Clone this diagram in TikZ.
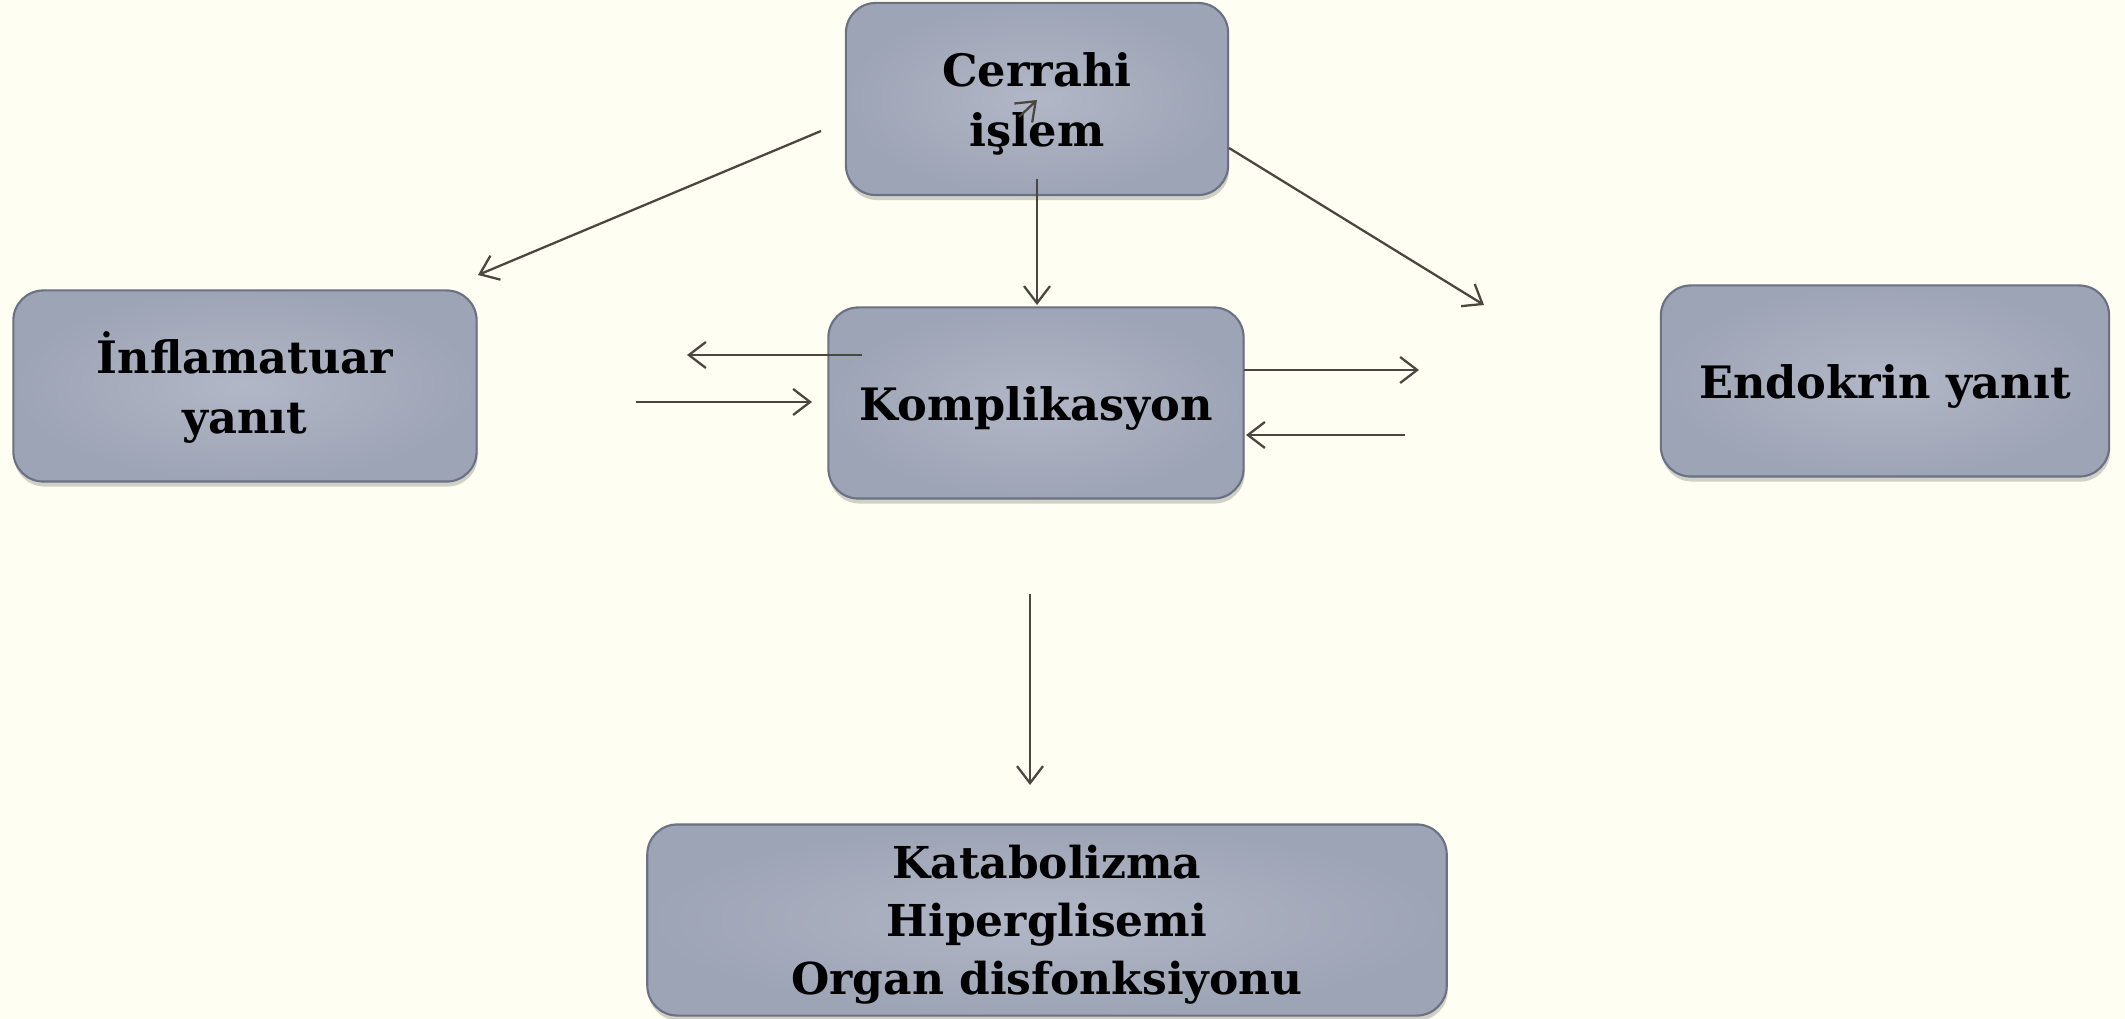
\documentclass[tikz,border=0pt]{standalone}
\usepackage{fontspec}
\setmainfont{DejaVu Serif}
\usetikzlibrary{arrows.meta,shadows}
\definecolor{paper}{HTML}{FEFEF2}
\definecolor{boxin}{HTML}{B1B7C6}
\definecolor{boxout}{HTML}{9DA4B5}
\definecolor{boxline}{HTML}{6A7183}
\definecolor{arrowc}{HTML}{4B4640}
% centred block of lines, set a little below the box centre
\newcommand{\boxlines}[1]{\raisebox{-1.5pt}[\height][\depth]{\begin{tabular}{@{}c@{}}#1\end{tabular}}}
\tikzset{
  box/.style={rounded corners=0.3cm, draw=boxline, line width=0.6pt,
    inner color=boxin, outer color=boxout, inner sep=0pt,
    font=\bfseries\fontsize{12.7pt}{17pt}\selectfont,
    drop shadow={shadow xshift=0.01cm, shadow yshift=-0.05cm, opacity=0.3, fill=black!60}},
  link/.style={draw=arrowc, line width=0.65pt,
    -{Straight Barb[length=0.17cm,width=0.26cm,line width=0.65pt]}}
}
\begin{document}
\begin{tikzpicture}[x=0.01cm,y=-0.01cm]
  \fill[paper] (0,0) rectangle (2125,1019);
  \useasboundingbox (0,0) rectangle (2125,1019);

  % boxes
  \node[box, minimum width=3.82cm, minimum height=1.92cm] (cer) at (1037,99)
        {\boxlines{Cerrahi\\işlem}};
  \node[box, minimum width=4.63cm, minimum height=1.91cm] (inf) at (245,386)
        {\boxlines{İnflamatuar\\yanıt}};
  \node[box, minimum width=4.15cm, minimum height=1.91cm] (kom) at (1036,403)
        {\boxlines{Komplikasyon}};
  \node[box, minimum width=4.48cm, minimum height=1.91cm] (endo) at (1885,381)
        {\boxlines{Endokrin yanıt}};
  \node[box, minimum width=7.99cm, minimum height=1.91cm,
        font=\bfseries\fontsize{12.5pt}{16.5pt}\selectfont] (bot) at (1047,920)
        {\boxlines{Katabolizma\\Hiperglisemi\\Organ disfonksiyonu}};

  % free ends of the connectors
  \coordinate (c1a) at (821,131);  \coordinate (c1b) at (478,275);
  \coordinate (c2a) at (1037,179); \coordinate (c2b) at (1037,305);
  \coordinate (c3a) at (1229,148); \coordinate (c3b) at (1484,305);
  \coordinate (c4a) at (1019,117); \coordinate (c4b) at (1037,100);
  \coordinate (c5a) at (862,355);  \coordinate (c5b) at (687,355);
  \coordinate (c6a) at (636,402);  \coordinate (c6b) at (812,402);
  \coordinate (c7a) at (1244,370); \coordinate (c7b) at (1419,370);
  \coordinate (c8a) at (1405,435); \coordinate (c8b) at (1246,435);
  \coordinate (c9a) at (1030,594); \coordinate (c9b) at (1030,785);

  % connectors
  \draw[link] (c1a) -- (c1b);
  \draw[link] (c2a) -- (c2b);
  \draw[link] (c3a) -- (c3b);
  \draw[link] (c4a) -- (c4b);
  \draw[link] (c5a) -- (c5b);
  \draw[link] (c6a) -- (c6b);
  \draw[link] (c7a) -- (c7b);
  \draw[link] (c8a) -- (c8b);
  \draw[link] (c9a) -- (c9b);
\end{tikzpicture}
\end{document}
